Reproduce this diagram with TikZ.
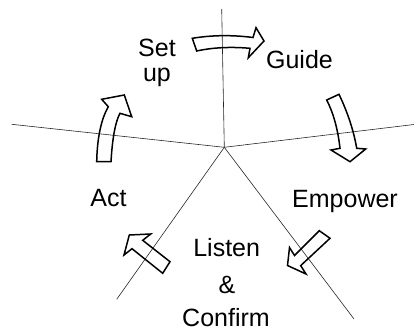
\documentclass[tikz,border=0pt]{standalone}
\usepackage{fontspec}
\setmainfont{Liberation Sans}
\begin{document}
\begin{tikzpicture}[x=1pt,y=-1pt,
  spoke/.style={line width=0.6pt,draw=black!85},
  blockarrow/.style={line width=1.5pt,draw=black,line join=miter},
  lbl/.style={anchor=base,inner sep=0pt,font=\fontsize{25}{30}\selectfont}]
\useasboundingbox (0,0) rectangle (414,331);
% centre and spoke ends
\coordinate (c) at (224.3,147.3);
\coordinate (eT) at (221.7,9);
\coordinate (eR) at (414,124.5);
\coordinate (eL) at (11.7,124.3);
\coordinate (eLL) at (116.7,299.3);
\coordinate (eLR) at (354,319);
\draw[spoke] (c) -- (eT);
\draw[spoke] (c) -- (eR);
\draw[spoke] (c) -- (eL);
\draw[spoke] (c) -- (eLL);
\draw[spoke] (c) -- (eLR);
% labels
\node[lbl] (set) at (157,56.5) {Set};
\node[lbl] (up) at (157,81.5) {up};
\node[lbl] (guide) at (299.5,68.3) {Guide};
\node[lbl] (empower) at (345,207) {Empower};
\node[lbl] (act) at (108.5,206.7) {Act};
\node[lbl] (listen) at (226.7,256) {Listen};
\node[lbl] (amp) at (227,293) {\&};
\node[lbl] (confirm) at (226,326.3) {Confirm};
% block arrows
\draw[blockarrow] (192.3,38.3) .. controls (211.7,35.1) and (231.9,34.8) .. (253,37.5)
  -- (256,27.7) -- (264,41) -- (248.3,57.7) -- (250,48.3)
  .. controls (230.4,46.6) and (212.6,47.5) .. (196.7,51) -- cycle;
\draw[blockarrow] (339,94.3) .. controls (347.8,112.8) and (353.7,130.8) .. (356.7,148.3)
  -- (365.7,149) -- (350,161.7) -- (331,150) -- (340,148.3)
  .. controls (337.8,128.9) and (333.3,112.8) .. (326.7,100) -- cycle;
\draw[blockarrow] (319.3,230.7) -- (294.5,255.5) -- (289.5,247.5) -- (287.5,265.5)
  -- (306,274) -- (300.7,265.6) -- (330,238.3) -- cycle;
\draw[blockarrow] (170,261.7) -- (142.7,240.3) -- (150.7,234) -- (129.3,235)
  -- (124,255) -- (132,248.7) -- (162.7,273.3) -- cycle;
\draw[blockarrow] (96.7,161.7) .. controls (97.2,137.8) and (101.1,119.4) .. (108.3,106.7)
  -- (101.7,99.3) -- (124.3,95) -- (131.7,116.7) -- (120,113.3)
  .. controls (115.4,121.7) and (112.4,137.8) .. (111,161.7) -- cycle;
\end{tikzpicture}
\end{document}
